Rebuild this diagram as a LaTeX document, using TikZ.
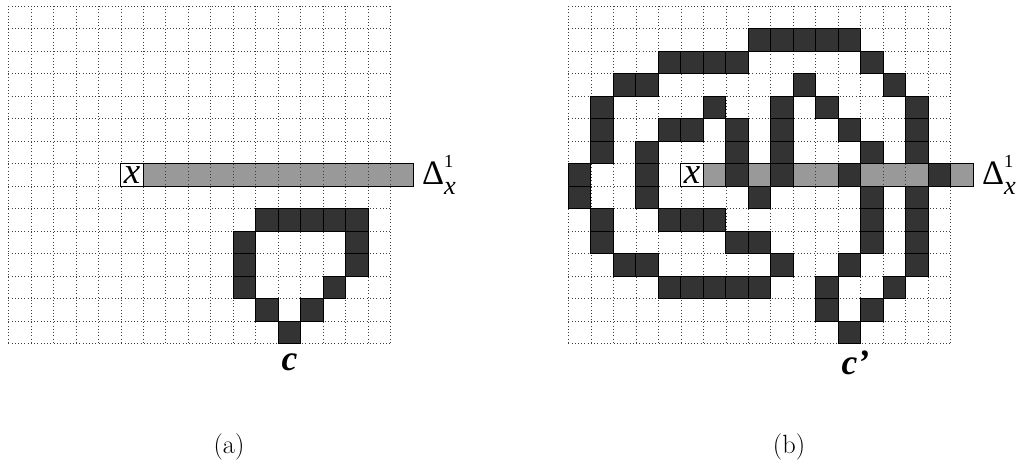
\documentclass[tikz,border=0pt]{standalone}
\usepackage{fontspec}
\newfontfamily\labelfont{Liberation Serif}
\usetikzlibrary{positioning}
\definecolor{curvefill}{gray}{0.2}
\definecolor{barfill}{gray}{0.6}
\tikzset{
  gridline/.style={
    draw=black!75,
    dotted,
    line width=0.45pt
  },
  curvecell/.style={
    draw=black,
    fill=curvefill,
    line width=0.5pt
  },
  probebar/.style={
    draw=black,
    fill=barfill,
    line width=0.5pt,
    minimum width=7.2cm,
    minimum height=0.6cm,
    inner sep=0pt
  },
  startcell/.style={
    draw=black,
    fill=white,
    line width=0.5pt,
    minimum size=0.6cm,
    inner sep=0pt,
    font=\labelfont\itshape\fontsize{28}{28}\selectfont
  },
  deltalabel/.style={
    inner sep=0pt,
    font=\labelfont\fontsize{26}{26}\selectfont
  },
  curvelabel/.style={
    inner sep=0pt,
    font=\labelfont\bfseries\itshape\fontsize{27}{27}\selectfont
  },
  sublabel/.style={
    inner sep=0pt,
    font=\fontsize{20}{24}\selectfont
  }
}
\DeclareTextSymbol{\textDelta}{TU}{"0394}
\newcommand{\deltatext}{\textDelta\rlap{\raisebox{0.5em}{\fontsize{14}{14}\selectfont 1}}\raisebox{-0.3em}{\fontsize{20}{20}\selectfont\itshape x}}

\begin{document}
\begin{tikzpicture}[x=0.6cm, y=-0.6cm]
  \useasboundingbox (-0.369,-0.267) rectangle (45.1,20.53);

  % (a) the curve c and the ray from x
  \begin{scope}
    \node[probebar] (bara) at (12,7.5) {};
    \foreach \i in {0,...,17}
      \draw[gridline] (\i,0) -- (\i,15);
    \foreach \j in {0,...,15}
      \draw[gridline] (0,\j) -- (17,\j);
    \draw[line width=0.5pt] (bara.south west) rectangle (bara.north east);
    \foreach \c/\r in {11/9,12/9,13/9,14/9,15/9,
                       10/10,15/10,10/11,15/11,10/12,14/12,
                       11/13,13/13,12/14}
      \filldraw[curvecell] (\c,\r) rectangle ++(1,1);
    \node[startcell] (xa) at (5.5,7.5) {x};
    \node[deltalabel, right=0.22cm of bara] (da) {\deltatext};
    \node[curvelabel] (ca) at (12.5,15.85) {c};
    \node[sublabel] (capa) at (9.81,19.6) {(a)};
  \end{scope}

  % (b) the curve c' and the same ray
  \begin{scope}[shift={(24.89,0)}]
    \node[probebar] (barb) at (12,7.5) {};
    \foreach \i in {0,...,17}
      \draw[gridline] (\i,0) -- (\i,15);
    \foreach \j in {0,...,15}
      \draw[gridline] (0,\j) -- (17,\j);
    \draw[line width=0.5pt] (barb.south west) rectangle (barb.north east);
    \foreach \c/\r in {8/1,9/1,10/1,11/1,12/1,
                       4/2,5/2,6/2,7/2,13/2,
                       2/3,3/3,10/3,14/3,
                       1/4,6/4,9/4,11/4,15/4,
                       1/5,4/5,5/5,7/5,9/5,12/5,15/5,
                       1/6,3/6,7/6,9/6,13/6,15/6,
                       0/7,3/7,7/7,9/7,12/7,16/7,
                       0/8,3/8,8/8,13/8,15/8,
                       1/9,4/9,5/9,6/9,13/9,15/9,
                       1/10,7/10,8/10,13/10,15/10,
                       2/11,3/11,9/11,12/11,15/11,
                       4/12,5/12,6/12,7/12,8/12,11/12,14/12,
                       11/13,13/13,12/14}
      \filldraw[curvecell] (\c,\r) rectangle ++(1,1);
    \node[startcell] (xb) at (5.5,7.5) {x};
    \node[deltalabel, right=0.22cm of barb] (db) {\deltatext};
    \node[curvelabel] (cb) at (12.5,15.85) {c\rlap{’}};
    \node[sublabel] (capb) at (9.81,19.6) {(b)};
  \end{scope}
\end{tikzpicture}
\end{document}
